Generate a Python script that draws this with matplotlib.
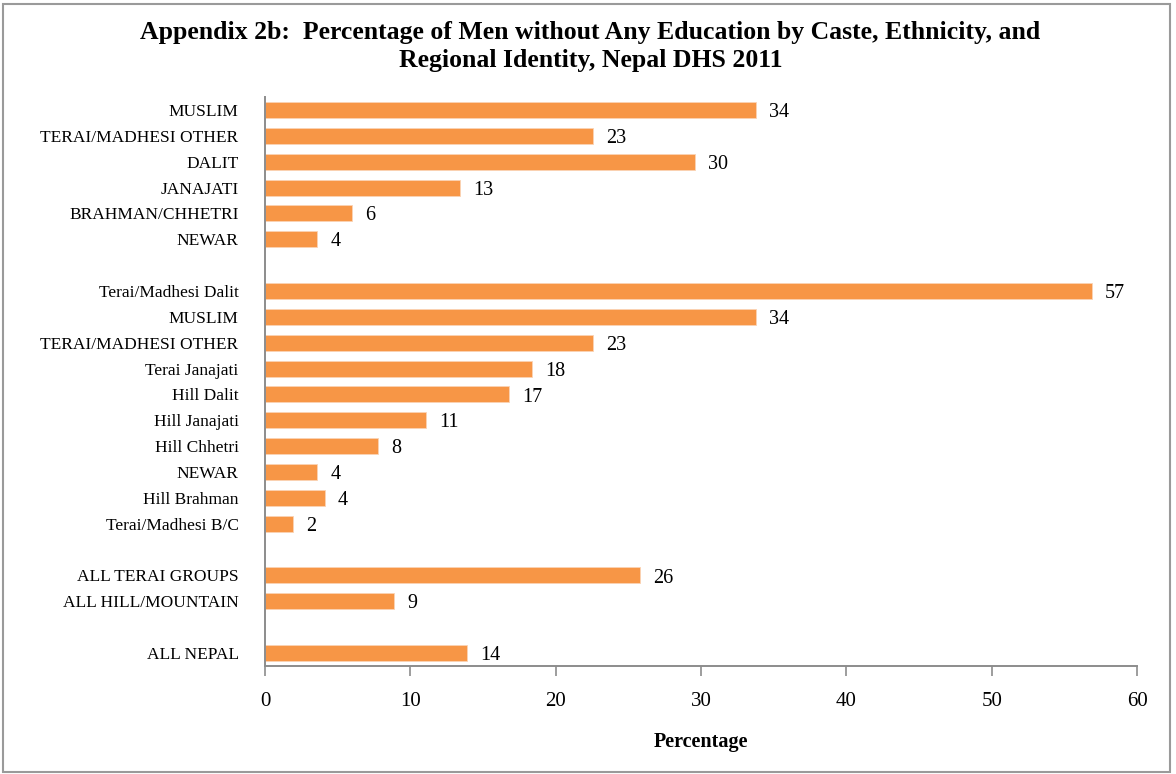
import matplotlib.pyplot as plt
from matplotlib.patches import Rectangle

# Groups listed top to bottom; an empty string marks a spacer row
groups = [
    "MUSLIM", "TERAI/MADHESI OTHER", "DALIT", "JANAJATI", "BRAHMAN/CHHETRI", "NEWAR",
    "",
    "Terai/Madhesi Dalit", "MUSLIM", "TERAI/MADHESI OTHER", "Terai Janajati", "Hill Dalit",
    "Hill Janajati", "Hill Chhetri", "NEWAR", "Hill Brahman", "Terai/Madhesi B/C",
    "",
    "ALL TERAI GROUPS", "ALL HILL/MOUNTAIN",
    "",
    "ALL NEPAL",
]
pct = [
    33.8, 22.6, 29.6, 13.4, 6.0, 3.6,
    None,
    56.9, 33.8, 22.6, 18.4, 16.8, 11.1, 7.8, 3.6, 4.1, 1.9,
    None,
    25.8, 8.9,
    None,
    13.9,
]
xticks = [0, 10, 20, 30, 40, 50, 60]

BAR = "#F79646"
AXIS = "#8C8C8C"
plt.rcParams["font.family"] = ["Liberation Serif", "DejaVu Serif"]

fig = plt.figure(figsize=(11.76, 7.74), dpi=100)
ax = fig.add_axes([265 / 1176, 1 - 666 / 774, 872 / 1176, 569 / 774])

n = len(groups)
ypos = list(range(n))
for y, v in zip(ypos, pct):
    if v is None:
        continue
    ax.barh(y, v, height=0.62, color=BAR, edgecolor="#FAD3B5", linewidth=0.6)
    ax.text(v + 0.9, y + 0.1, f"{v:.0f}", va="center", ha="left", fontsize=14.5)

ax.set_ylim(n - 0.5, -0.5)
ax.set_xlim(0, 60)
ax.set_yticks(ypos)
ax.set_yticklabels(groups, fontsize=12.5)
ax.tick_params(axis="y", length=0, pad=19)
ax.set_xticks(xticks)
ax.set_xticklabels([str(t) for t in xticks], fontsize=15)
ax.tick_params(axis="x", length=7, width=1.2, color=AXIS, pad=12)

for s in ["top", "right"]:
    ax.spines[s].set_visible(False)
for s in ["left", "bottom"]:
    ax.spines[s].set_color(AXIS)
    ax.spines[s].set_linewidth(1.4)

ax.set_xlabel("Percentage", fontsize=14.5, fontweight="bold", labelpad=15)

fig.text(0.502, 1 - 33 / 774,
         "Appendix 2b:  Percentage of Men without Any Education by Caste, Ethnicity, and",
         ha="center", va="center", fontsize=18.5, fontweight="bold")
fig.text(0.502, 1 - 60 / 774, "Regional Identity, Nepal DHS 2011",
         ha="center", va="center", fontsize=18.5, fontweight="bold")

# thin frame round the whole chart area
fig.patches.append(Rectangle((3 / 1176, 2 / 774), 1167 / 1176, 768 / 774,
                             transform=fig.transFigure, fill=False,
                             edgecolor="#9A9A9A", linewidth=1.5))

fig.savefig("out.png", dpi=100)
